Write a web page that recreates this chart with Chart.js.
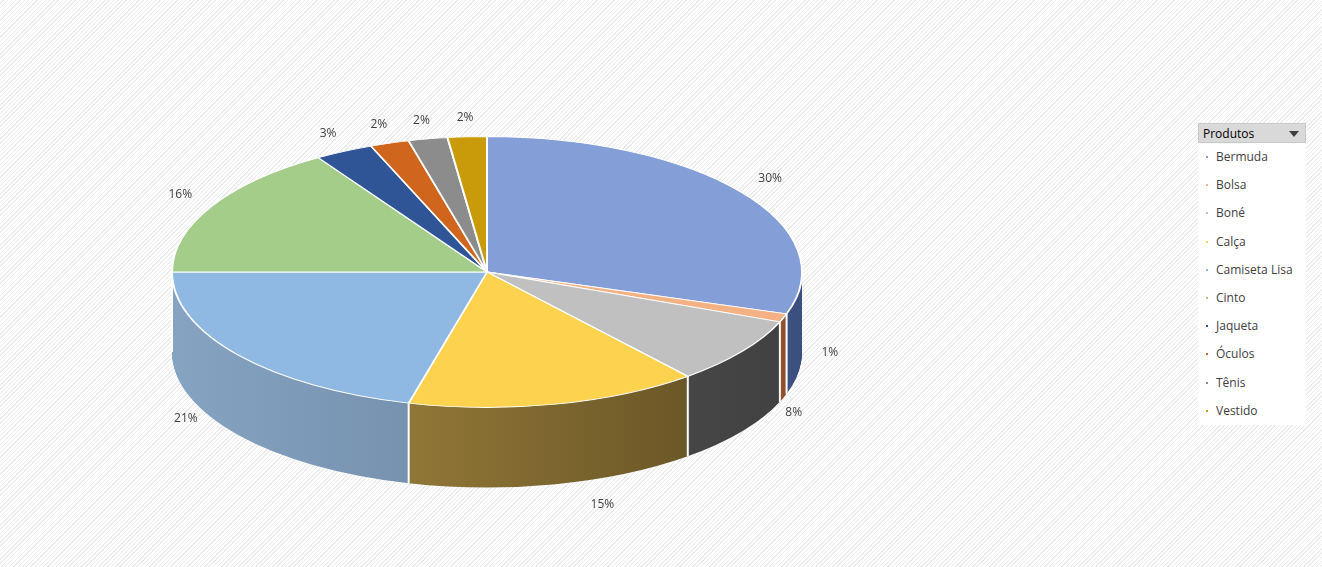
<!DOCTYPE html>
<html>
<head>
<meta charset="utf-8">
<script src="https://cdn.jsdelivr.net/npm/chart.js@4"></script>
<style>
  html, body { margin: 0; padding: 0; }
  body {
    width: 1322px; height: 567px; overflow: hidden; position: relative;
    background: repeating-linear-gradient(135deg, #ffffff 0px, #ffffff 2px, #ececec 2px, #ececec 3px);
    font-family: "Open Sans", "DejaVu Sans", sans-serif;
  }
  #wrap { position: absolute; left: 0; top: 0; width: 1322px; height: 567px; }
  #legend {
    position: absolute; left: 1198px; top: 123px; width: 108px;
    background: #fff; font-size: 12px; color: #404040;
  }
  #legend .head {
    background: #d9d9d9; color: #000; height: 20px; line-height: 20px; padding-left: 4px;
    position: relative; border: 1px solid #c8c8c8; box-sizing: border-box;
  }
  #legend .head:after {
    content: ""; position: absolute; right: 6px; top: 7px;
    border-left: 5px solid transparent; border-right: 5px solid transparent; border-top: 6px solid #404040;
  }
  #legend .item { height: 28.2px; line-height: 28.2px; padding-left: 18px; position: relative; }
  #legend .item i { position: absolute; left: 8px; top: 13px; width: 2px; height: 2px; }
</style>
</head>
<body>
<div id="wrap"><canvas id="pie"></canvas></div>
<div id="legend"><div class="head">Produtos</div></div>
<script>
const produtos = ['Bermuda', 'Bolsa', 'Boné', 'Calça', 'Camiseta Lisa', 'Cinto', 'Jaqueta', 'Óculos', 'Tênis', 'Vestido'];
const percentuais = [30, 1, 8, 15, 21, 16, 3, 2, 2, 2];
const coresTopo = ['#849fd8', '#f4b183', '#c0c0c0', '#fdd24e', '#8fb9e2', '#a5cd8a', '#2f5597', '#d0651e', '#8c8c8c', '#c99a0a'];
const coresLado = [['#5a74a8', '#3c5080'], ['#c08060', '#905030'], ['#606060', '#404040'], ['#b09245', '#5c4a20'],
                   ['#86a3c2', '#5c7690'], ['#7a9a60', '#50703a'], ['#203a6a', '#152848'], ['#904010', '#602808'],
                   ['#5a5a5a', '#404040'], ['#806008', '#604808']];

const CX = 487, CY = 272, R = 315, K = 0.43, DEPTH = 80;

// legenda em HTML
const legend = document.getElementById('legend');
produtos.forEach((p, i) => {
    const d = document.createElement('div');
    d.className = 'item';
    d.innerHTML = '<i style="background:' + coresTopo[i] + '"></i>' + p;
    legend.appendChild(d);
});

let chartCy = 0;
function aplicaTransform(ctx, dy) {
    ctx.translate(0, CY + dy);
    ctx.scale(1, K);
    ctx.translate(0, -chartCy);
}

const pie3d = {
    id: 'pie3d',
    beforeDatasetsDraw(chart) {
        const ctx = chart.ctx;
        const meta = chart.getDatasetMeta(0);
        chartCy = (chart.chartArea.top + chart.chartArea.bottom) / 2;
        // lateral (camadas)
        for (let d = DEPTH; d > 0; d -= 1) {
            meta.data.forEach((arc, i) => {
                const g = ctx.createLinearGradient(CX - R, 0, CX + R, 0);
                g.addColorStop(0, coresLado[i][0]);
                g.addColorStop(1, coresLado[i][1]);
                const o = arc.options;
                arc.options = Object.assign({}, o, { backgroundColor: g, borderWidth: 0 });
                ctx.save();
                aplicaTransform(ctx, d);
                arc.draw(ctx);
                ctx.restore();
                arc.options = o;
            });
        }
        // linha branca no fim da lateral
        ctx.save();
        ctx.strokeStyle = '#ffffff';
        ctx.lineWidth = 2;
        meta.data.forEach(arc => {
            const a = arc.endAngle;
            if (Math.sin(a) > 0) {
                const x = CX + R * Math.cos(a), y = CY + R * K * Math.sin(a);
                ctx.beginPath(); ctx.moveTo(x, y); ctx.lineTo(x, y + DEPTH); ctx.stroke();
            }
        });
        ctx.restore();
        ctx.save();
        aplicaTransform(ctx, 0);
    },
    afterDatasetsDraw(chart) {
        const ctx = chart.ctx;
        ctx.restore();
        const meta = chart.getDatasetMeta(0);
        ctx.save();
        ctx.font = '12px "Open Sans", "DejaVu Sans", sans-serif';
        ctx.fillStyle = '#404040';
        ctx.textAlign = 'center';
        ctx.textBaseline = 'middle';
        meta.data.forEach((arc, i) => {
            const a = (arc.startAngle + arc.endAngle) / 2;
            const s = Math.sin(a), c = Math.cos(a);
            const x = CX + (R + 35) * c + (s > 0 ? 40 * s * Math.sign(c) : 0);
            const y = CY + (R + 30) * K * s + (s > 0 ? (DEPTH + 10) * s : -6);
            ctx.fillText(percentuais[i] + '%', x, y);
        });
        ctx.restore();
    }
};

new Chart(document.getElementById('pie'), {
    type: 'pie',
    data: {
        labels: produtos,
        datasets: [{
            data: percentuais,
            backgroundColor: coresTopo,
            borderColor: '#ffffff',
            borderWidth: 2
        }]
    },
    options: {
        responsive: true,
        maintainAspectRatio: false,
        animation: false,
        radius: R,
        layout: { padding: { left: 0, right: 1322 - 2 * CX } },
        plugins: { legend: { display: false }, tooltip: { enabled: false } }
    },
    plugins: [pie3d]
});
</script>
</body>
</html>
